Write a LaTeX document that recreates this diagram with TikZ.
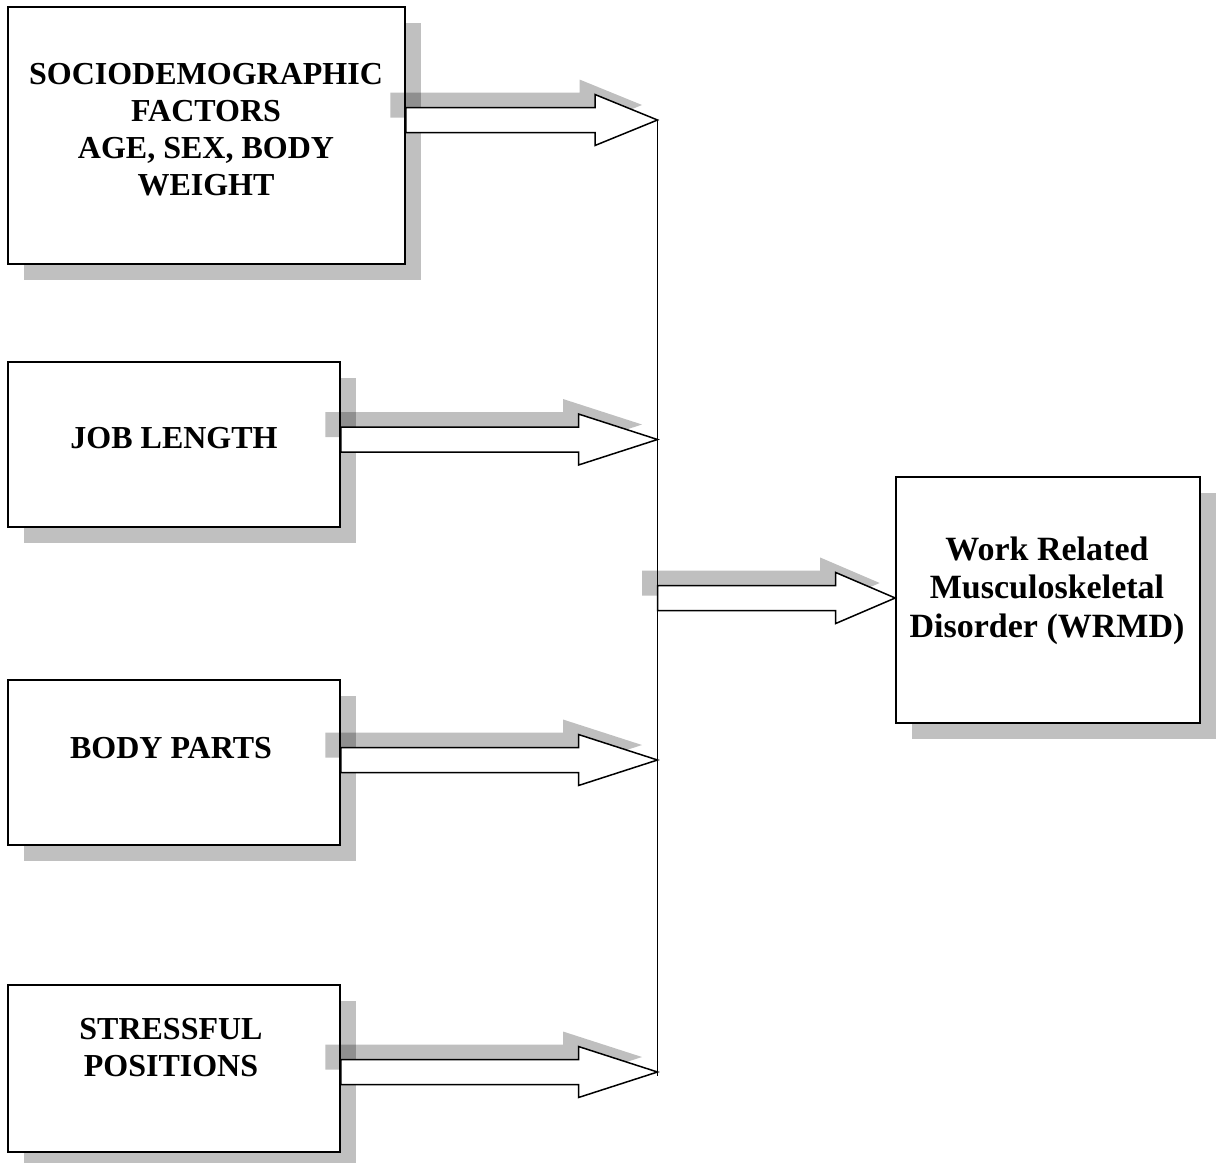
\documentclass[tikz,border=0pt]{standalone}
\usepackage{fontspec}
\setmainfont{Liberation Serif}
\usetikzlibrary{calc,shadows}
\definecolor{shadowgray}{RGB}{192,192,192}
\tikzset{
  box/.style={draw=black, line width=1.6pt, fill=white, inner sep=0pt,
    drop shadow={shadow xshift=16pt, shadow yshift=-16pt, fill=shadowgray, opacity=1}},
  boxtext/.style={font=\bfseries\fontsize{32}{36.8}\selectfont, align=center, anchor=base, inner sep=0pt},
  arrowshadow/.style={fill=black, fill opacity=0.25, draw=none},
  arrowbody/.style={fill=white, draw=black, line width=1.5pt, line join=miter},
  joinline/.style={draw=black, line width=1.2pt}
}
% #1 start, #2 tip, #3 head length, #4 dx, #5 dy (canvas offsets)
\newcommand\blockpath[5]{let \p1=(#1), \p2=(#2) in
  (\x1+#4,\y2+12.5pt+#5) -- (\x2-#3+#4,\y2+12.5pt+#5) -- (\x2-#3+#4,\y2+25.5pt+#5) -- (\x2+#4,\y2+#5)
  -- (\x2-#3+#4,\y2-25.5pt+#5) -- (\x2-#3+#4,\y2-12.5pt+#5) -- (\x1+#4,\y2-12.5pt+#5) -- cycle}
\newcommand\blockarrow[3]{%
  \fill[arrowshadow] \blockpath{#1}{#2}{#3}{-15.5pt}{15pt};
  \draw[arrowbody] \blockpath{#1}{#2}{#3}{0pt}{0pt};
}
\begin{document}
\begin{tikzpicture}[x=1pt,y=-1pt]
\useasboundingbox (0,0) rectangle (1218,1162);
% boxes
\node[box, minimum width=397pt, minimum height=257pt] (b1) at (206.5,135.5) {};
\node[box, minimum width=332pt, minimum height=165pt] (b2) at (174,444.5) {};
\node[box, minimum width=332pt, minimum height=165pt] (b3) at (174,762.5) {};
\node[box, minimum width=332pt, minimum height=167pt] (b4) at (174,1068.5) {};
\node[box, minimum width=304pt, minimum height=246pt] (b5) at (1048,600) {};
% texts (anchor = baseline of the last line)
\node[boxtext] (t1) at (206,195.2) {SOCIODEMOGRAPHIC\\FACTORS\\AGE, SEX, BODY\\WEIGHT};
\node[boxtext] (t2) at (174,448.3) {JOB LENGTH};
\node[boxtext] (t3) at (171,758.3) {BODY PARTS};
\node[boxtext] (t4) at (171,1076.5) {STRESSFUL\\POSITIONS};
\node[boxtext, font=\bfseries\fontsize{34}{38.8}\selectfont] (t5) at (1047,637.6) {Work Related\\Musculoskeletal\\Disorder (WRMD)};
% junction coordinates on the vertical line
\coordinate (j1) at (657.5,120);
\coordinate (j2) at (657.5,439.5);
\coordinate (j3) at (657.5,760);
\coordinate (j4) at (657.5,1072);
\coordinate (jm) at (657.5,598);
\coordinate (jend) at (657.5,1076);
% block arrows
\blockarrow{b1.east |- j1}{j1}{62.5pt}
\blockarrow{b2.east |- j2}{j2}{79pt}
\blockarrow{b3.east |- j3}{j3}{79pt}
\blockarrow{b4.east |- j4}{j4}{79pt}
\blockarrow{jm}{b5.west |- jm}{59.5pt}
% vertical collector line
\draw[joinline] (j1) -- (jend);
\end{tikzpicture}
\end{document}
